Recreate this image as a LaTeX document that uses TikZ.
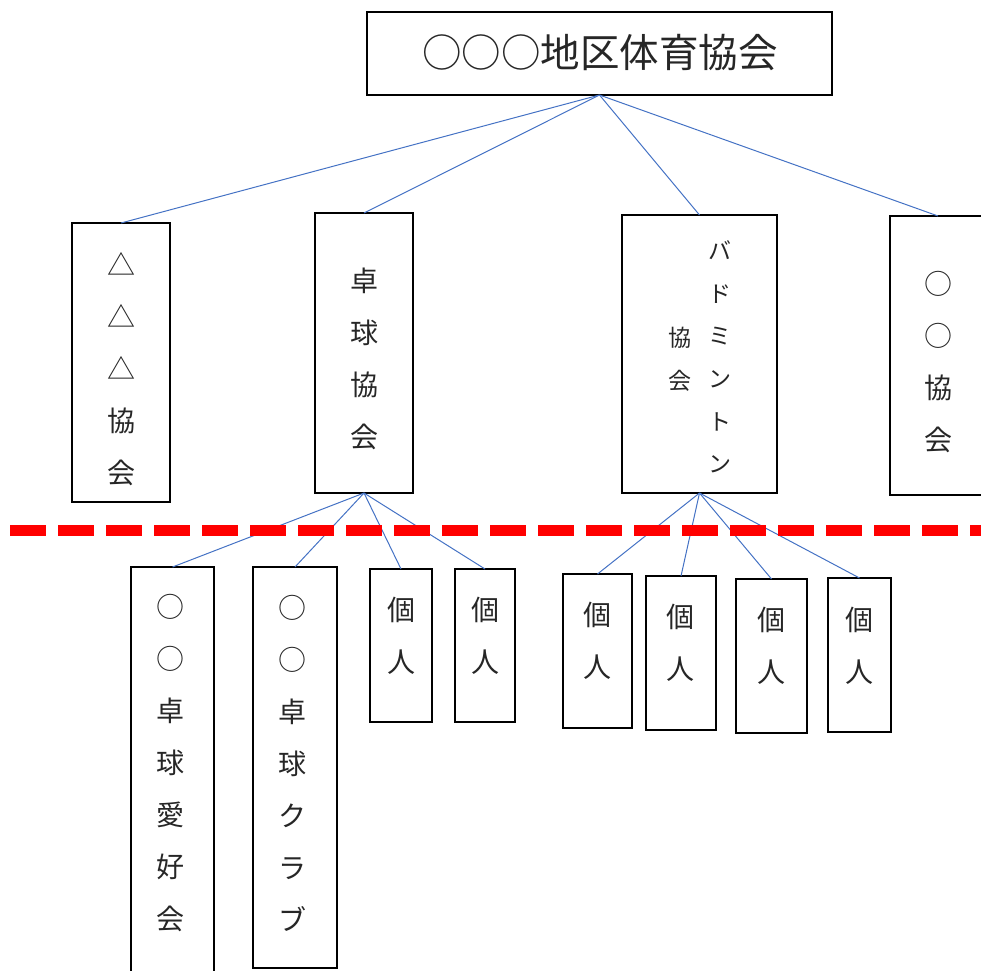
\documentclass[tikz,border=0pt]{standalone}
\usepackage{fontspec}
\setmainfont{Noto Sans CJK JP}
\begin{document}
\begin{tikzpicture}[x=1pt,y=-1pt,
  box/.style={draw=black,line width=2pt,rectangle,inner sep=0pt,outer sep=0pt,anchor=north west},
  vtext/.style={align=center,inner sep=0pt,font=\fontsize{28}{52}\selectfont,text=black!85},
  stext/.style={align=center,inner sep=0pt,font=\fontsize{23}{42.6}\selectfont,text=black!85},
  conn/.style={draw={rgb,255:red,68;green,114;blue,196},line width=1pt},
  sep/.style={draw=red,line width=11pt,dash pattern=on 36pt off 12pt}]
\useasboundingbox (0,0) rectangle (981,970);
% top
\node[box,minimum width=465pt,minimum height=83pt] (top) at (367,12) {};
\node[inner sep=0pt,font=\fontsize{39.5}{45}\selectfont,text=black!85] (toptxt) at (600,53) {○○○地区体育協会};
% level 2
\node[box,minimum width=98pt,minimum height=279pt] (b1) at (72,223) {};
\node[vtext] (b1t) at (121,369) {△\\△\\△\\協\\会};
\node[box,minimum width=98pt,minimum height=280pt] (b2) at (315,213) {};
\node[vtext] (b2t) at (364,359) {卓\\球\\協\\会};
\node[box,minimum width=155pt,minimum height=278pt] (b3) at (622,215) {};
\node[stext] (b3r) at (720,357) {バ\\ド\\ミ\\ン\\ト\\ン};
\node[stext] (b3l) at (680,359) {協\\会};
\node[box,minimum width=96pt,minimum height=279pt] (b4) at (890,216) {};
\node[vtext] (b4t) at (938,362) {○\\○\\協\\会};
% level 3 under table tennis
\node[box,minimum width=83pt,minimum height=410pt] (c1) at (131,567) {};
\node[vtext] (c1t) at (170,763) {○\\○\\卓\\球\\愛\\好\\会};
\node[box,minimum width=84pt,minimum height=401pt] (c2) at (253,567) {};
\node[vtext] (c2t) at (292,763) {○\\○\\卓\\球\\ク\\ラ\\ブ};
\node[box,minimum width=62pt,minimum height=153pt] (c3) at (370,569) {};
\node[vtext] (c3t) at (401,636) {個\\人};
\node[box,minimum width=60pt,minimum height=153pt] (c4) at (455,569) {};
\node[vtext] (c4t) at (485,636) {個\\人};
% level 3 under badminton
\node[box,minimum width=69pt,minimum height=154pt] (d1) at (563,574) {};
\node[vtext] (d1t) at (597,641) {個\\人};
\node[box,minimum width=70pt,minimum height=154pt] (d2) at (646,576) {};
\node[vtext] (d2t) at (680,643) {個\\人};
\node[box,minimum width=71pt,minimum height=154pt] (d3) at (736,579) {};
\node[vtext] (d3t) at (771,646) {個\\人};
\node[box,minimum width=63pt,minimum height=154pt] (d4) at (828,578) {};
\node[vtext] (d4t) at (859,646) {個\\人};
% connectors
\foreach \n in {b1,b2,b3,b4} \draw[conn] (top.south) -- (\n.north);
\foreach \n in {c1,c2,c3,c4} \draw[conn] (b2.south) -- (\n.north);
\foreach \n in {d1,d2,d3,d4} \draw[conn] (b3.south) -- (\n.north);
% separator
\coordinate (sepL) at (10,530);
\coordinate (sepR) at (981,530);
\draw[sep] (sepL) -- (sepR);
\end{tikzpicture}
\end{document}
